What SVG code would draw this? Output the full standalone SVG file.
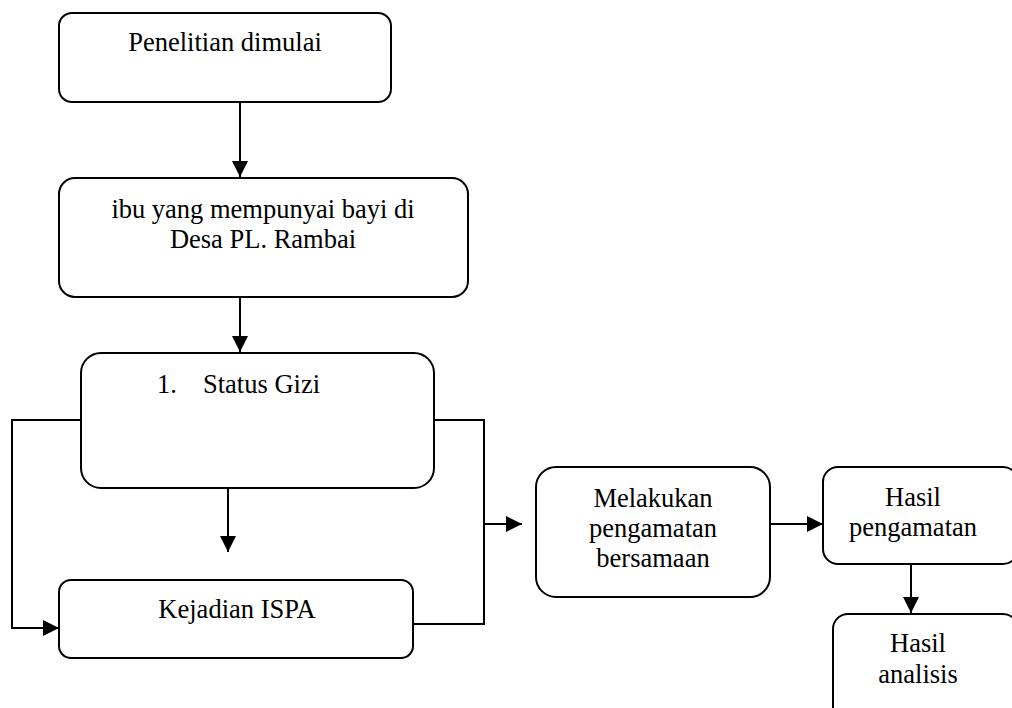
<svg xmlns="http://www.w3.org/2000/svg" width="1012" height="708" viewBox="0 0 1012 708">
<style>
.box{fill:#fff;stroke:#000;stroke-width:2}
.t{font-size:26.5px;fill:#000;text-anchor:middle}
.c{fill:none;stroke:#000;stroke-width:2}
</style>
<defs>
<marker id="ahv" markerWidth="17" markerHeight="18" refX="16" refY="9" orient="auto" markerUnits="userSpaceOnUse" viewBox="0 0 17 18">
<path d="M0,1 L16,9 L0,17 Z" fill="#000"/>
</marker>
</defs>
<rect width="1012" height="708" fill="#fff"/>
<g id="connectors">
<line class="c" x1="240" y1="102" x2="240" y2="177" marker-end="url(#ahv)"/>
<line class="c" x1="240" y1="297" x2="240" y2="352" marker-end="url(#ahv)"/>
<line class="c" x1="228" y1="488" x2="228" y2="552" marker-end="url(#ahv)"/>
<polyline class="c" points="81,420 12,420 12,628 59,628" marker-end="url(#ahv)"/>
<polyline class="c" points="434,420 484,420 484,624 413,624"/>
<line class="c" x1="484" y1="524" x2="522" y2="524" marker-end="url(#ahv)"/>
<line class="c" x1="767" y1="524" x2="823" y2="524" marker-end="url(#ahv)"/>
<line class="c" x1="911" y1="564" x2="911" y2="613" marker-end="url(#ahv)"/>
</g>
<g font-family="'Liberation Serif', 'DejaVu Serif', serif">
<g id="n1">
<rect class="box" x="59" y="13" width="332" height="89" rx="13"/>
<text class="t" x="225" y="51">Penelitian dimulai</text>
</g>
<g id="n2">
<rect class="box" x="59" y="178" width="409" height="119" rx="16"/>
<text class="t" x="263" y="218">ibu yang mempunyai bayi di</text>
<text class="t" x="263" y="248">Desa PL. Rambai</text>
</g>
<g id="n3">
<rect class="box" x="81" y="353" width="353" height="135" rx="20"/>
<text class="t" x="157" y="393" text-anchor="start" style="text-anchor:start">1.</text>
<text class="t" x="203" y="393" style="text-anchor:start">Status Gizi</text>
</g>
<g id="n4">
<rect class="box" x="59" y="580" width="354" height="78" rx="12"/>
<text class="t" x="237" y="618">Kejadian ISPA</text>
</g>
<g id="n5">
<rect class="box" x="536" y="467" width="234" height="130" rx="20"/>
<text class="t" x="653" y="507">Melakukan</text>
<text class="t" x="653" y="537">pengamatan</text>
<text class="t" x="653" y="567">bersamaan</text>
</g>
<g id="n6">
<rect class="box" x="823" y="467" width="195" height="97" rx="15"/>
<text class="t" x="913" y="506">Hasil</text>
<text class="t" x="913" y="536">pengamatan</text>
</g>
<g id="n7">
<rect class="box" x="833" y="614" width="185" height="110" rx="15"/>
<text class="t" x="918" y="652">Hasil</text>
<text class="t" x="918" y="683">analisis</text>
</g>
</g>
</svg>
